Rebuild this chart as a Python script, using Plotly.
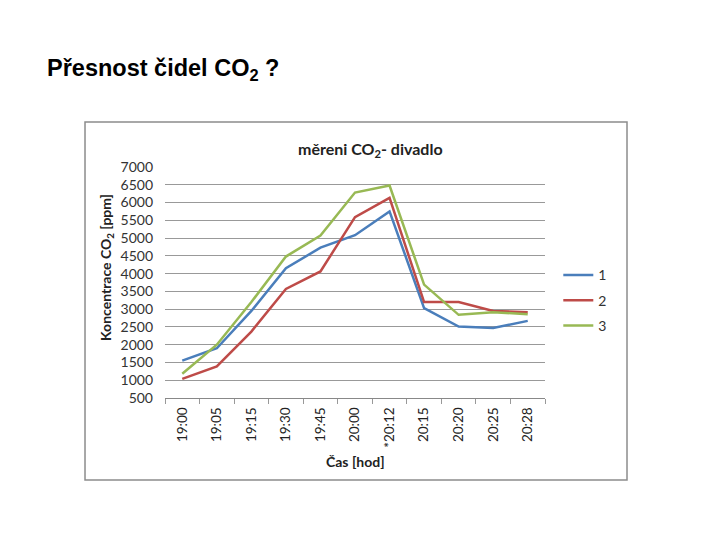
import plotly.graph_objects as go

times = ["19:00", "19:05", "19:15", "19:30", "19:45", "20:00", "*20:12", "20:15", "20:20", "20:25", "20:28"]
s1 = [1550, 1900, 2950, 4150, 4730, 5080, 5750, 3030, 2510, 2470, 2670]
s2 = [1040, 1390, 2370, 3570, 4060, 5590, 6130, 3200, 3200, 2950, 2910]
s3 = [1180, 2000, 3200, 4480, 5070, 6280, 6480, 3690, 2840, 2910, 2860]
names = ["1", "2", "3"]
colors = ["#4a7ebb", "#be4b48", "#98b954"]

fig = go.Figure()
for i, (ys, nm, c) in enumerate(zip([s1, s2, s3], names, colors)):
    fig.add_trace(go.Scatter(x=times, y=ys, name=nm, mode="lines",
                             line=dict(color=c, width=2.5), legendgroup=nm))

font_c = "Lato"
fig.update_layout(
    width=720, height=540,
    paper_bgcolor="white", plot_bgcolor="white",
    margin=dict(l=157, r=183, t=159, b=150),
    showlegend=True,
    legend=dict(x=1.035, y=0.6, xanchor="left", yanchor="top",
                font=dict(family=font_c, size=14, color="#333"),
                tracegroupgap=4, bgcolor="rgba(0,0,0,0)"),
    xaxis=dict(type="category", range=[-0.5, len(times) - 0.5], tickangle=-90,
               tickson="boundaries", ticks="outside", ticklen=5, tickcolor="#999",
               showline=True, linecolor="#888", linewidth=1, showgrid=False,
               ticklabelstandoff=3,
               tickfont=dict(family=font_c, size=13.5, color="#222")),
    yaxis=dict(range=[500, 7000], dtick=500, showgrid=True, gridcolor="#999999",
               gridwidth=1, zeroline=False, showline=False, ticks="",
               ticklabelstandoff=11,
               tickfont=dict(family=font_c, size=14, color="#333")),
)

fig.add_shape(type="rect", xref="paper", yref="paper",
              x0=-0.2105, x1=1.2158, y0=-0.355, y1=1.1948,
              line=dict(color="#8c8c8c", width=1.5), fillcolor="rgba(0,0,0,0)", layer="below")

fig.add_annotation(text="<b>Přesnost čidel CO<sub>2</sub> ?</b>", xref="paper", yref="paper",
                   x=-0.3158, y=1.42, xanchor="left", yanchor="middle", showarrow=False,
                   font=dict(family="Liberation Sans", size=23.5, color="black"))
fig.add_annotation(text="<b>měreni CO<sub>2</sub>- divadlo</b>", xref="paper", yref="paper",
                   x=0.542, y=1.074, xanchor="center", yanchor="middle", showarrow=False,
                   font=dict(family=font_c, size=16, color="#222"))
fig.add_annotation(text="<b>Koncentrace CO<sub>2</sub> [ppm]</b>", xref="paper", yref="paper",
                   x=-0.1526, y=0.563, xanchor="center", yanchor="middle", showarrow=False,
                   textangle=-90, font=dict(family=font_c, size=14, color="#222"))
fig.add_annotation(text="<b>Čas [hod]</b>", xref="paper", yref="paper",
                   x=0.5, y=-0.277, xanchor="center", yanchor="middle", showarrow=False,
                   font=dict(family=font_c, size=14, color="#222"))

fig.write_html("out.html")
